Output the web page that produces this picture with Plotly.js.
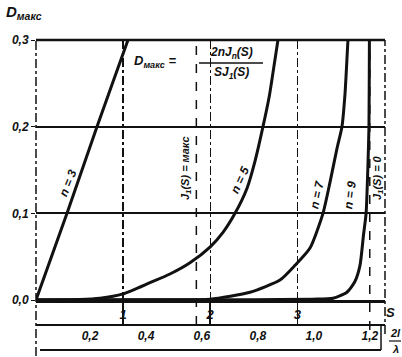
<!DOCTYPE html>
<html><head><meta charset="utf-8">
<script src="https://cdn.plot.ly/plotly-3.0.1.min.js"></script>
<style>html,body{margin:0;padding:0;background:#fff}#g{width:402px;height:357px}</style>
</head><body><div id="g"></div>
<script>
// ---- data ----
const s3 = [0, 0.356, 0.700, 1.056, 1.08];
const d3 = [0, 0.10, 0.20, 0.30, 0.307];
const s5 = [0, 0.50, 0.735, 0.999, 1.309, 1.538, 1.768, 1.998, 2.147, 2.285, 2.423, 2.514, 2.606, 2.680, 2.740, 2.778, 2.79];
const d5 = [0, 0.0005, 0.002, 0.007, 0.020, 0.030, 0.043, 0.061, 0.078, 0.100, 0.129, 0.160, 0.200, 0.236, 0.275, 0.300, 0.31];
const s7 = [0, 1.50, 1.998, 2.457, 2.801, 2.974, 3.146, 3.295, 3.376, 3.456, 3.513, 3.548, 3.582, 3.59];
const d7 = [0, 0.0004, 0.001, 0.009, 0.023, 0.040, 0.060, 0.100, 0.136, 0.175, 0.200, 0.238, 0.300, 0.31];
const s9 = [0, 2.49, 3.18, 3.41, 3.57, 3.66, 3.72, 3.76, 3.79, 3.81, 3.823, 3.828, 3.829];
const d9 = [0, 0.0003, 0.001, 0.002, 0.009, 0.021, 0.040, 0.075, 0.100, 0.152, 0.200, 0.300, 0.31];
const nLabels = ['n = 3', 'n = 5', 'n = 7', 'n = 9'];
const sJ1max = 1.841;   // J1(S) = max
const sJ1zero = 3.832;  // J1(S) = 0
const sTicks = [1, 2, 3];
const dTicks = [0, 0.1, 0.2, 0.3];
const dTickText = ['0,0', '0,1', '0,2', '0,3'];
const lTicks = [0.2, 0.4, 0.6, 0.8, 1.0, 1.2];
const lTickText = ['0,2', '0,4', '0,6', '0,8', '1,0', '1,2'];

// ---- layout geometry ----
const L = 36, R = 385, T = 40, B = 352;
const W = R - L, H = B - T;
const SMAX = 4.007;
const LRANGE = [0.007, 1.254];
const px = p => (p - L) / W;
const py = p => (B - p) / H;
const FF = 'Liberation Sans Narrow, Liberation Sans, DejaVu Sans, sans-serif';
const f = (size) => ({family: FF, size: size, color: '#111', weight: 'bold', style: 'italic'});

const curve = (x, y) => ({x: x, y: y, type: 'scatter', mode: 'lines',
  line: {color: '#111', width: 3, shape: 'spline', smoothing: 0.6},
  hoverinfo: 'skip', showlegend: false});

const traces = [curve(s3, d3), curve(s5, d5), curve(s7, d7), curve(s9, d9)];

const shapes = [
  {type: 'line', xref: 'paper', yref: 'paper', x0: 0, x1: 1, y0: 1, y1: 1, line: {color: '#111', width: 2.5}},
  {type: 'line', xref: 'paper', yref: 'paper', x0: 0, x1: 0, y0: py(356), y1: 1, line: {color: '#111', width: 1.5, dash: 'dashdot'}},
  {type: 'line', xref: 'paper', yref: 'paper', x0: 1, x1: 1, y0: py(334), y1: 1, line: {color: '#111', width: 1.5, dash: 'dashdot'}},
  {type: 'line', xref: 'x', yref: 'paper', x0: sJ1max, x1: sJ1max, y0: py(325), y1: 1, line: {color: '#111', width: 1.5, dash: 'dash'}},
  {type: 'line', xref: 'x', yref: 'paper', x0: sJ1zero, x1: sJ1zero, y0: py(330), y1: 1, line: {color: '#111', width: 1.5, dash: 'dash'}},
  {type: 'line', xref: 'paper', yref: 'paper', x0: px(40), x1: px(381), y0: py(350), y1: py(350), line: {color: '#111', width: 2}},
  {type: 'line', xref: 'paper', yref: 'paper', x0: px(381), x1: px(381), y0: py(350), y1: py(326), line: {color: '#111', width: 1.5}},
  {type: 'line', xref: 'paper', yref: 'paper', x0: px(199), x1: px(263), y0: py(63), y1: py(63), line: {color: '#111', width: 1.5}},
  {type: 'line', xref: 'paper', yref: 'paper', x0: px(389), x1: px(401), y0: py(341), y1: py(341), line: {color: '#111', width: 1.2}}
];

const ann = (x, y, text, size, angle, xanchor) => ({xref: 'paper', yref: 'paper', x: px(x), y: py(y),
  text: text, showarrow: false, font: f(size), textangle: angle || 0, xanchor: xanchor || 'center', yanchor: 'middle'});

const annotations = [
  ann(4, 12, 'D<sub>макс</sub>', 15, 0, 'left'),
  ann(68, 183, nLabels[0], 12, -68),
  ann(240, 180, nLabels[1], 12, -65),
  ann(317, 195, nLabels[2], 12, -78),
  ann(350, 195, nLabels[3], 12, -82),
  ann(186, 168, 'J<sub>1</sub>(S) = макс', 11, -90),
  ann(378, 178, 'J<sub>1</sub>(S) = 0', 11, -90),
  ann(132, 62, 'D<sub>макс</sub> =', 13, 0, 'left'),
  ann(231, 53, '2nJ<sub>n</sub>(S)', 12),
  ann(231, 73, 'SJ<sub>1</sub>(S)', 12),
  ann(390, 312, 'S', 13),
  ann(395, 333, '2l', 11),
  ann(395, 349, 'λ', 11)
];

const layout = {
  width: 402, height: 357,
  margin: {l: L, r: 402 - R, t: T, b: 357 - B, pad: 0},
  paper_bgcolor: '#fff', plot_bgcolor: '#fff',
  showlegend: false,
  xaxis: {range: [0, SMAX], tickvals: sTicks, ticks: '', showgrid: true, gridcolor: '#111', gridwidth: 1.3,
    griddash: 'dashdot', zeroline: false, showline: true, linecolor: '#111', linewidth: 3,
    tickfont: f(13), anchor: 'y'},
  xaxis3: {range: [0, SMAX], overlaying: 'x', anchor: 'y', tickvals: sTicks, ticks: 'outside', ticklen: 25,
    tickwidth: 1.5, tickcolor: '#111', showticklabels: false, showgrid: false, zeroline: false, showline: false},
  xaxis2: {range: LRANGE, overlaying: 'x', anchor: 'free', position: py(325), side: 'bottom',
    tickvals: lTicks, ticktext: lTickText, ticks: '', showgrid: false, zeroline: false, showline: true,
    linecolor: '#111', linewidth: 2, tickfont: f(12)},
  yaxis: {range: [0, 0.3], domain: [py(300), 1], tickvals: dTicks, ticktext: dTickText, ticks: 'outside', ticklen: 4,
    tickcolor: '#111', showgrid: true, gridcolor: '#111', gridwidth: 2, zeroline: false, showline: false,
    tickfont: f(12)},
  shapes: shapes,
  annotations: annotations
};

traces.push({x: [0], y: [0], xaxis: 'x2', yaxis: 'y', type: 'scatter', mode: 'markers', marker: {opacity: 0}, hoverinfo: 'skip', showlegend: false});
traces.push({x: [0], y: [0], xaxis: 'x3', yaxis: 'y', type: 'scatter', mode: 'markers', marker: {opacity: 0}, hoverinfo: 'skip', showlegend: false});

Plotly.newPlot('g', traces, layout, {staticPlot: true, displayModeBar: false});
</script></body></html>
